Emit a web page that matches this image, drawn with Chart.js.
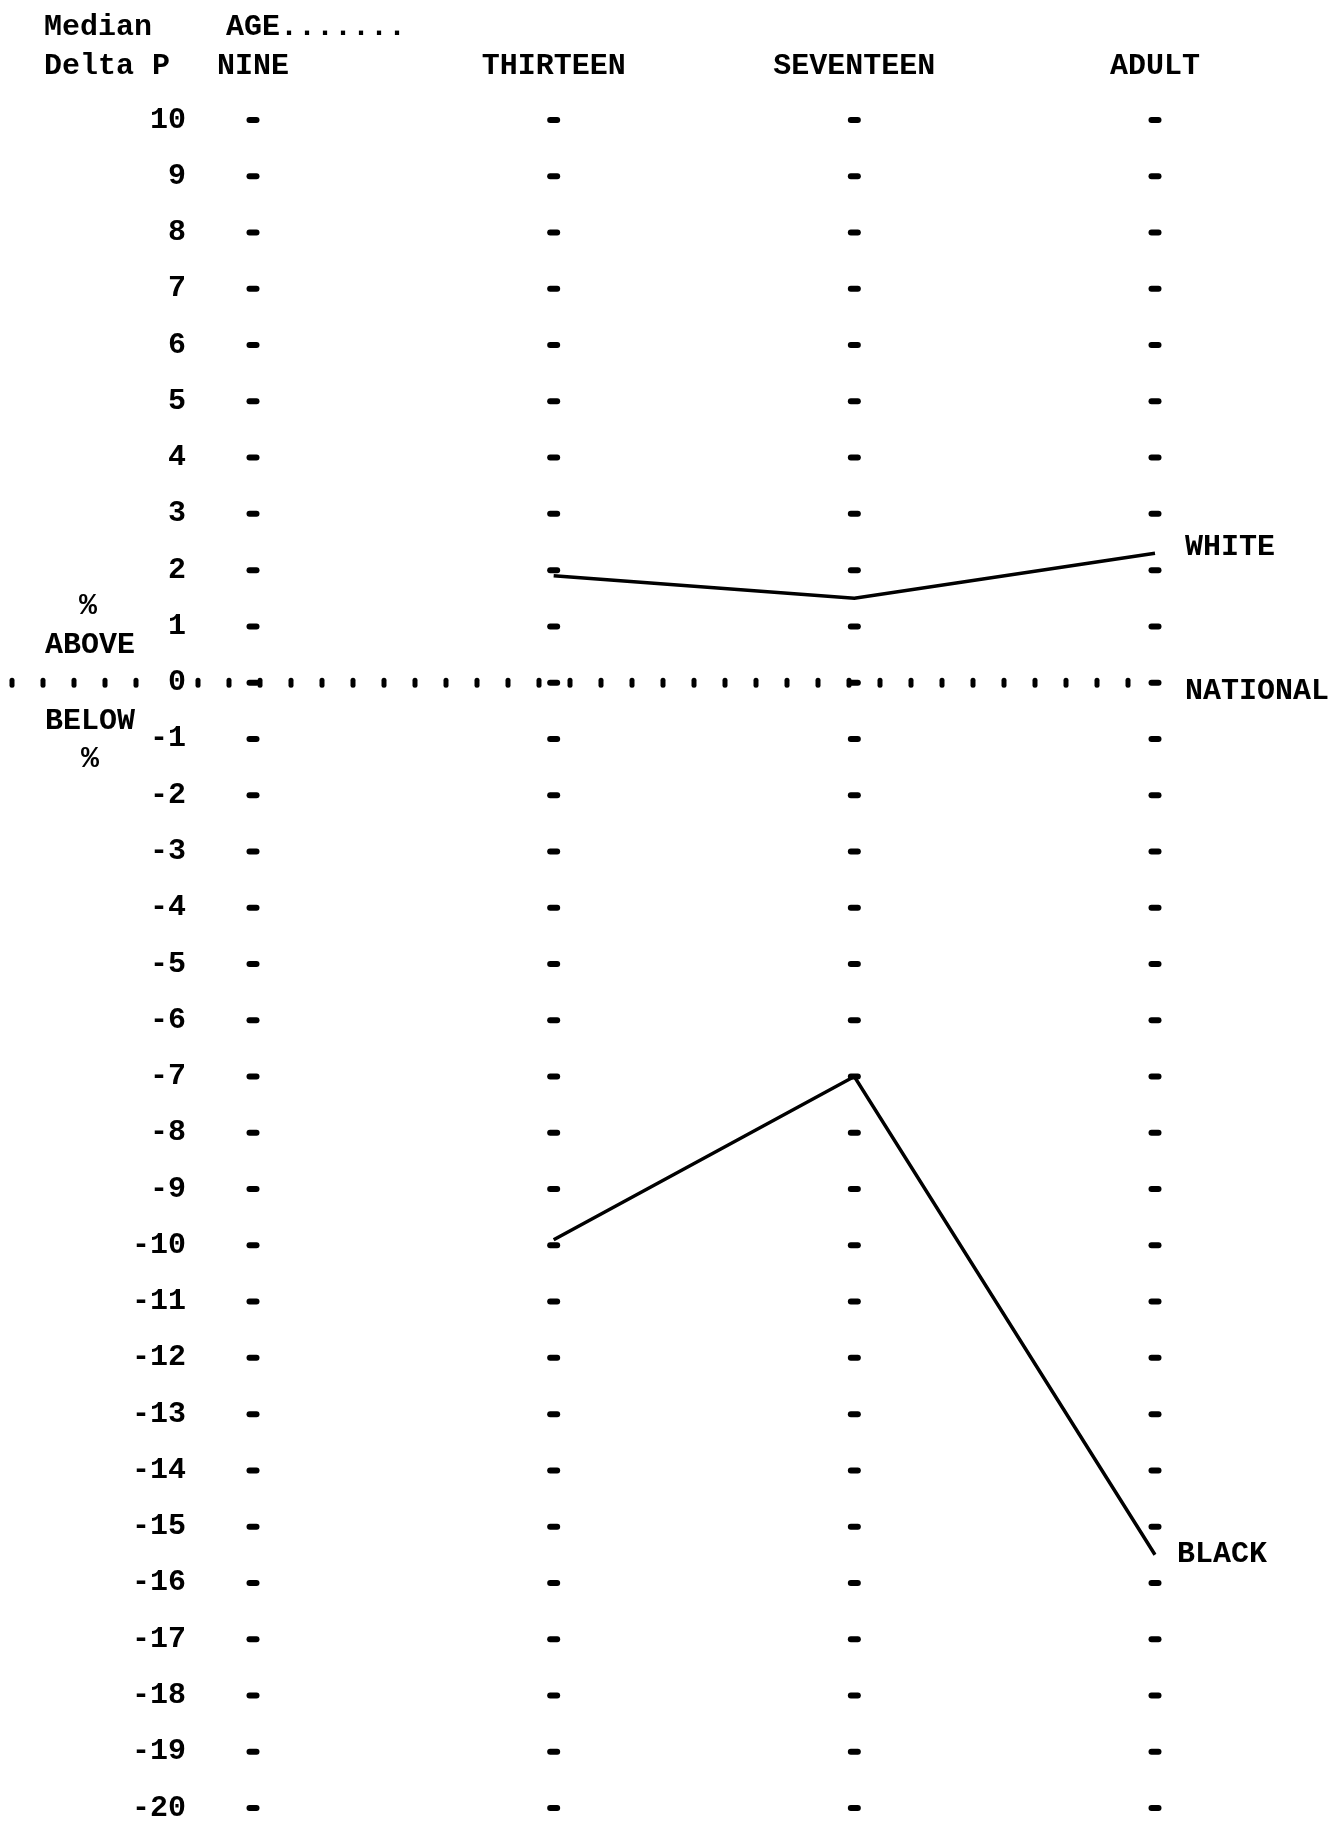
<!DOCTYPE html>
<html>
<head>
<meta charset="utf-8">
<script src="https://cdn.jsdelivr.net/npm/chart.js@4.4.0/dist/chart.umd.min.js"></script>
<style>
  html, body { margin: 0; padding: 0; background: #fff; }
  canvas { display: block; }
</style>
</head>
<body>
<canvas id="chart" width="1339" height="1825"></canvas>
<script>
// age groups across the top
const ages = ["NINE", "THIRTEEN", "SEVENTEEN", "ADULT"];
// median delta P, % above/below national (no value for age nine)
const whiteVals = [null, 1.9, 1.5, 2.3];
const blackVals = [null, -9.9, -7.0, -15.5];
const nationalVals = [0, 0, 0, 0];
// y axis tick values, top to bottom
const yTicks = [10, 9, 8, 7, 6, 5, 4, 3, 2, 1, 0, -1, -2, -3, -4, -5, -6, -7, -8, -9, -10,
                -11, -12, -13, -14, -15, -16, -17, -18, -19, -20];

const typeFont = "'Liberation Mono', 'Courier New', monospace";

// little dashes at every tick on each age column + the dotted national line
const marksPlugin = {
  id: "marks",
  beforeDatasetsDraw(chart) {
    const { ctx, scales: { x, y }, chartArea } = chart;
    ctx.save();
    ctx.fillStyle = "#000";
    ages.forEach((a, i) => {
      const px = x.getPixelForValue(i);
      yTicks.forEach(v => {
        const py = y.getPixelForValue(v);
        ctx.beginPath();
        ctx.roundRect(px - 6.5, py - 3, 13, 6, 3);
        ctx.fill();
      });
    });
    // national line, dotted across the whole page
    const y0 = y.getPixelForValue(nationalVals[0]);
    for (let dx = 12; dx < chartArea.right - 8; dx += 31) {
      if (dx > 160 && dx < 190) continue; // leave room for the "0"
      ctx.beginPath();
      ctx.roundRect(dx - 2.5, y0 - 5, 5, 10, 2.5);
      ctx.fill();
    }
    ctx.restore();
  }
};

const textPlugin = {
  id: "texts",
  afterDraw(chart) {
    const { ctx, scales: { x, y } } = chart;
    ctx.save();
    ctx.fillStyle = "#000";
    ctx.textBaseline = "middle";
    ctx.font = "bold 30px " + typeFont;
    ctx.textAlign = "left";
    ctx.fillText("Median", 44, 27);
    ctx.fillText("Delta P", 44, 66);
    ctx.fillText("AGE.......", 226, 27);

    ctx.textAlign = "center";
    ctx.fillText("%", 88, 606);
    ctx.fillText("ABOVE", 90, 645);
    ctx.fillText("BELOW", 90, 721);
    ctx.fillText("%", 90, 759);

    ctx.textAlign = "left";
    const right = x.getPixelForValue(ages.length - 1);
    ctx.fillText("WHITE", right + 30, y.getPixelForValue(whiteVals[3]) - 6);
    ctx.fillText("NATIONAL", right + 30, y.getPixelForValue(nationalVals[3]) + 9);
    ctx.fillText("BLACK", right + 22, y.getPixelForValue(blackVals[3]));
    ctx.restore();
  }
};

new Chart(document.getElementById("chart"), {
  type: "line",
  data: {
    labels: ages,
    datasets: [
      { label: "WHITE", data: whiteVals, borderColor: "#000", borderWidth: 3.5, pointRadius: 0, tension: 0 },
      { label: "BLACK", data: blackVals, borderColor: "#000", borderWidth: 3.5, pointRadius: 0, tension: 0 }
    ]
  },
  options: {
    responsive: false,
    animation: false,
    layout: { padding: { top: 0, left: 0, right: 184, bottom: 17 } },
    plugins: { legend: { display: false }, tooltip: { enabled: false } },
    scales: {
      x: {
        position: "top",
        offset: false,
        grid: { display: false, drawTicks: false },
        border: { display: false },
        ticks: {
          color: "#000",
          font: { family: typeFont, size: 30, weight: "bold" },
          padding: 36,
          maxRotation: 0
        },
        afterFit(scale) { scale.height = 120; }
      },
      y: {
        min: -20,
        max: 10,
        grid: { display: false, drawTicks: false },
        border: { display: false },
        afterBuildTicks(scale) { scale.ticks = yTicks.map(v => ({ value: v })); },
        ticks: {
          color: "#000",
          font: { family: typeFont, size: 30, weight: "bold" },
          padding: 67,
          callback: v => String(v)
        },
        afterFit(scale) {
          scale.width = 253;
          // tick padding is horizontal here, don't let it eat the top/bottom
          scale.paddingTop = 17;
          scale.paddingBottom = 17;
        }
      }
    }
  },
  plugins: [marksPlugin, textPlugin]
});
</script>
</body>
</html>
